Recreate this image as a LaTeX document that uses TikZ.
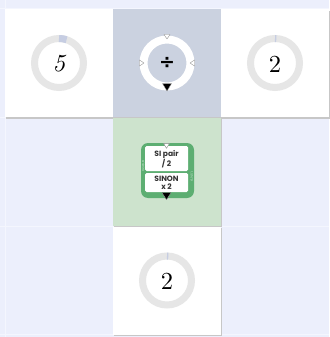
\documentclass[tikz,border=0pt]{standalone}
\usepackage{graphicx}
\usepackage{fontspec}
\newfontfamily\panelfont{Poppins}
\newfontfamily\symfont{DejaVu Sans}
\usetikzlibrary{calc}
\definecolor{bg}{HTML}{ECEFFC}
\definecolor{gridl}{HTML}{F4F6FE}
\definecolor{opcell}{HTML}{CBD2E0}
\definecolor{greencell}{HTML}{CDE3CD}
\definecolor{boxgreen}{HTML}{5DAE72}
\definecolor{ringgray}{HTML}{E6E6E6}
\definecolor{progress}{HTML}{C6CDE2}
\tikzset{
  cellbox/.style={draw=none, minimum width=108, minimum height=108, inner sep=0, outer sep=0},
  shadowed/.style={preaction={fill=black!22, transform canvas={xshift=1.2pt, yshift=-1.6pt}}},
  numring/.style={draw=ringgray, line width=7},
  numtext/.style={font=\fontsize{10}{10}\selectfont, inner sep=0},
  wtri/.style={fill=white, draw=black!45, line width=0.4, line join=round},
  btri/.style={fill=black, draw=black!40, line width=0.4, line join=round},
  panel/.style={fill=white, rounded corners=1.5, draw=none},
  paneltext/.style={font=\panelfont\bfseries\fontsize{7.6}{8.2}\selectfont, align=center, text=black!80, inner sep=0},
  sidetext/.style={font=\panelfont\fontsize{2.8}{3}\selectfont, text=white!80!boxgreen, inner sep=0},
  gridline/.style={draw=gridl, line width=0.8}
}
\begin{document}
\begin{tikzpicture}[x=1pt,y=-1pt]
\fill[bg] (0,0) rectangle (329,337);
\useasboundingbox (0,0) rectangle (329,337);
% faint grid
\draw[gridline] (5.5,0) -- (5.5,337);
\draw[gridline] (0,8) -- (329,8);
\draw[gridline] (0,226.5) -- (329,226.5);
\draw[gridline] (0,334) -- (329,334);
\draw[gridline] (0,117.5) -- (329,117.5);
% cells
\node[cellbox, shadowed, fill=white] (c00) at (59,63) {};
\node[cellbox, shadowed, fill=opcell] (c10) at (167,63) {};
\node[cellbox, shadowed, fill=white] (c20) at (275,63) {};
\node[cellbox, shadowed, fill=greencell] (c11) at (167,171.5) {};
\node[cellbox, shadowed, fill=white] (c12) at (167,280.5) {};
% number rings
\foreach \c in {c00, c20, c12} {
  \draw[numring] (\c.center) circle (24.5);
}
\draw[progress, line width=7] ($(c00.center)+(0,-24.5)$) arc[start angle=-90, end angle=-72, radius=24.5];
\draw[progress, line width=7] ($(c20.center)+(0,-24.5)$) arc[start angle=-90, end angle=-87, radius=24.5];
\draw[progress, line width=7] ($(c12.center)+(0,-24.5)$) arc[start angle=-90, end angle=-87, radius=24.5];
\node[numtext] (n5) at ($(c00.center)+(0,1)$) {\scalebox{2.45}{\itshape 5}};
\node[numtext] (n2a) at ($(c20.center)+(0,1)$) {\scalebox{2.45}{2}};
\node[numtext] (n2b) at ($(c12.center)+(0,1)$) {\scalebox{2.45}{2}};
% divide operator
\draw[white, line width=8] (c10.center) circle (23.5);
\node[font=\symfont\bfseries\fontsize{19}{19}\selectfont, inner sep=0] (div) at ($(c10.center)+(0,0)$) {÷};
\coordinate (dt) at ($(c10.center)+(0,-27)$);
\coordinate (dl) at ($(c10.center)+(-26,0)$);
\coordinate (dr) at ($(c10.center)+(26,0)$);
\coordinate (db) at ($(c10.center)+(0,23.5)$);
\draw[wtri] ($(dt)+(-3,-1.5)$) -- ($(dt)+(3,-1.5)$) -- ($(dt)+(0,3)$) -- cycle;
\draw[wtri] ($(dl)+(-1.5,-3)$) -- ($(dl)+(-1.5,3)$) -- ($(dl)+(3,0)$) -- cycle;
\draw[wtri] ($(dr)+(1.5,-3)$) -- ($(dr)+(1.5,3)$) -- ($(dr)+(-3,0)$) -- cycle;
\draw[btri] ($(db)+(-4.5,-3)$) -- ($(db)+(4.5,-3)$) -- ($(db)+(0,4.5)$) -- cycle;
% parity box
\node[fill=boxgreen, rounded corners=7, minimum width=53, minimum height=55, inner sep=0] (pbox) at (167.5,170.5) {};
\node[panel, minimum width=43, minimum height=25, inner sep=0] (ptop) at ($(pbox.center)+(-1,-12)$) {};
\node[panel, minimum width=43, minimum height=19, inner sep=0] (pbot) at ($(pbox.center)+(-1,12)$) {};
\node[paneltext] (ttop) at ($(ptop.center)+(0,0.3)$) {SI pair\\/ 2};
\node[paneltext] (tbot) at ($(pbot.center)+(0,0)$) {SINON\\x 2};
\node[sidetext, rotate=90] (sl) at ($(pbox.west)+(2.4,-4)$) {0,2,4,6,8};
\node[sidetext, rotate=-90] (sr) at ($(pbox.east)+(-2.4,6)$) {1,3,5,7,9};
\coordinate (pt) at ($(pbox.north)+(-1,2.5)$);
\coordinate (pb) at ($(pbox.south)+(-1,-2.5)$);
\draw[wtri] ($(pt)+(-3,-2)$) -- ($(pt)+(3,-2)$) -- ($(pt)+(0,3)$) -- cycle;
\draw[btri] ($(pb)+(-4.5,-3)$) -- ($(pb)+(4.5,-3)$) -- ($(pb)+(0,4)$) -- cycle;
\end{tikzpicture}
\end{document}
